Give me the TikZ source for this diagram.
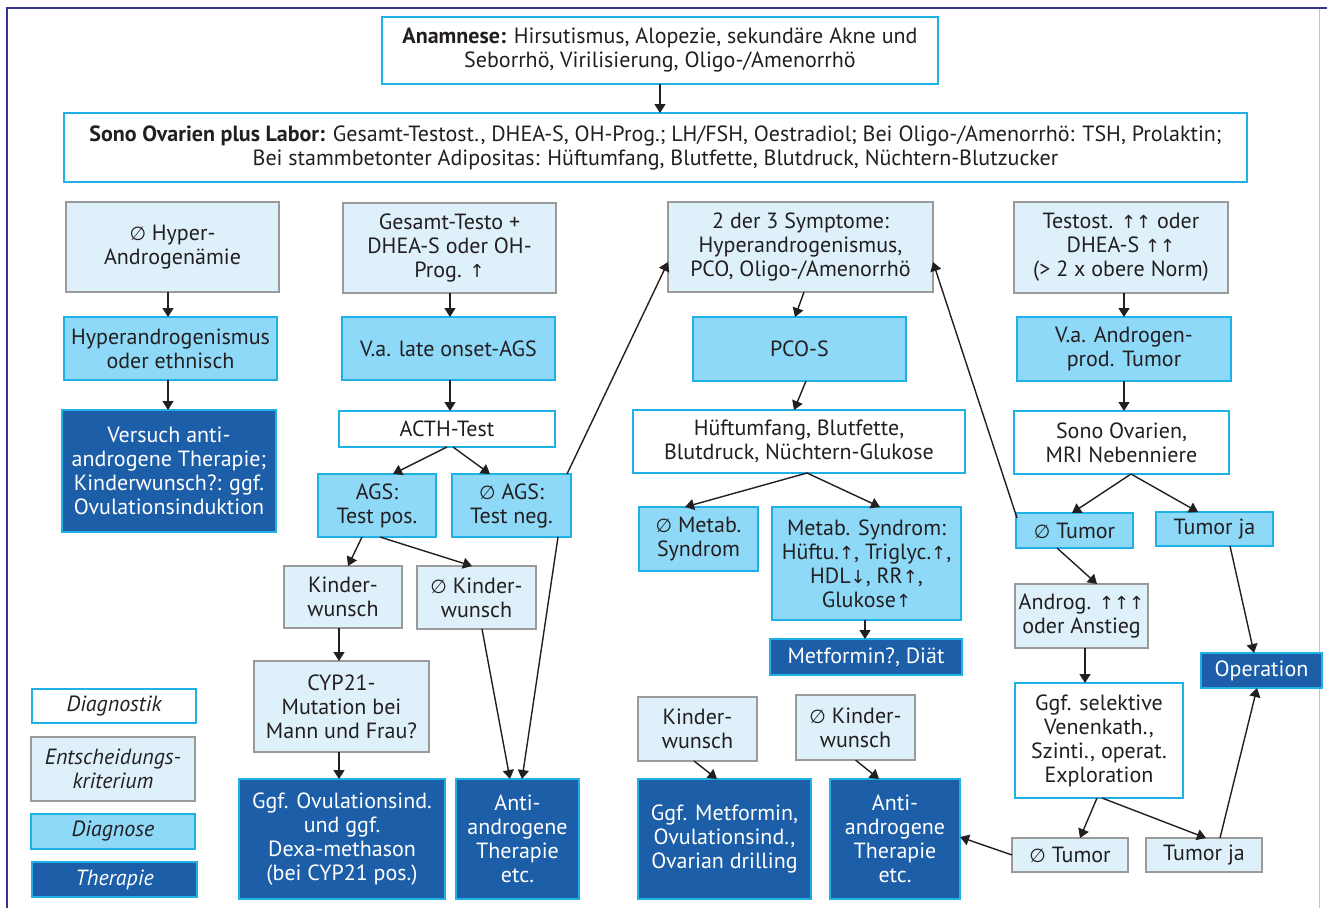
\documentclass[tikz,border=0pt]{standalone}
\usepackage{fontspec}
\setmainfont{PT Sans}
\newfontfamily\symf{DejaVu Sans}
\usetikzlibrary{arrows.meta,calc}
\definecolor{cyb}{HTML}{1FB1E6}
\definecolor{entfill}{HTML}{DEF1FB}
\definecolor{entb}{HTML}{9A9A9A}
\definecolor{dgnfill}{HTML}{8FD9F8}
\definecolor{therfill}{HTML}{1C5EA8}
\definecolor{txt}{HTML}{231F20}
\definecolor{framec}{HTML}{353591}
\newcommand{\myE}{{\symf\fontsize{19}{24}\selectfont ∅}}
\newcommand{\myU}{{\symf\fontsize{18}{24}\selectfont ↑}}
\newcommand{\myD}{{\symf\fontsize{18}{24}\selectfont ↓}}
\newcommand\mybox[7]{\node[#1, minimum width={(#5)-(#3)}, minimum height={(#6)-(#4)}] (#2) at ({((#3)+(#5))/2},{((#4)+(#6))/2}) {#7};}
\newcommand\vd[3]{\draw[arr] ([xshift=#2pt]#1.south) coordinate (tmp) -- (tmp |- #3.north);}
\newcommand\dg[4]{\draw[arr] ([xshift=#2pt]#1.south) -- ([xshift=#4pt]#3.north);}
\tikzset{
  bx/.style={rectangle, align=center, inner sep=2pt, outer sep=0pt, line width=1.6pt, text=txt, font=\fontsize{22}{24}\selectfont},
  diag/.style={bx, draw=cyb, fill=white},
  ent/.style={bx, draw=entb, fill=entfill},
  dgn/.style={bx, draw=cyb, fill=dgnfill},
  ther/.style={bx, draw=cyb, fill=therfill, text=white},
  arr/.style={draw=txt, line width=1.4pt, -{Triangle[length=9pt,width=11pt]}},
}
\begin{document}
\begin{tikzpicture}[x=1pt,y=-1pt]
\useasboundingbox (0,0) rectangle (1327,908);
\fill[white] (0,0) rectangle (1327,908);
\draw[draw=framec!30, line width=1pt] (1319,8) -- (1319,908);
\draw[draw=framec, line width=2.5pt] (7,908) -- (7,8) -- (1327,8);
% top
\mybox{diag}{ana}{382}{17}{938}{84}{\textbf{Anamnese:} Hirsutismus, Alopezie, sekundäre Akne und\\Seborrhö, Virilisierung, Oligo-/Amenorrhö}
\mybox{diag}{sono}{64}{113}{1247}{182}{\textbf{Sono Ovarien plus Labor:} Gesamt-Testost., DHEA-S, OH-Prog.; LH/FSH, Oestradiol; Bei Oligo-/Amenorrhö: TSH, Prolaktin;\\Bei stammbetonter Adipositas: Hüftumfang, Blutfette, Blutdruck, Nüchtern-Blutzucker}
% column A
\mybox{ent}{a1}{66}{202}{279}{292}{\myE{} Hyper-\\Androgenämie}
\mybox{dgn}{a2}{64}{317}{277}{380}{Hyperandrogenismus\\oder ethnisch}
\mybox{ther}{a3}{62}{410}{276}{532}{Versuch anti-\\androgene Therapie;\\Kinderwunsch?: ggf.\\Ovulationsinduktion}
% column B
\mybox{ent}{b1}{343}{203}{556}{293}{Gesamt-Testo +\\DHEA-S oder OH-\\Prog. \myU}
\mybox{dgn}{b2}{342}{317}{555}{380}{V.a. late onset-AGS}
\mybox{diag}{b3}{339}{411}{555}{447}{ACTH-Test}
\mybox{dgn}{b4}{318}{474}{436}{537}{AGS:\\Test pos.}
\mybox{dgn}{b5}{452}{474}{571}{537}{\myE{} AGS:\\Test neg.}
\mybox{ent}{b6}{284}{566}{402}{628}{Kinder-\\wunsch}
\mybox{ent}{b7}{417}{566}{536}{629}{\myE{} Kinder-\\wunsch}
\mybox{ent}{b8}{254}{661}{429}{752}{CYP21-\\Mutation bei\\Mann und Frau?}
\mybox{ther}{b9}{239}{779}{445}{899}{Ggf. Ovulationsind.\\und ggf.\\Dexa-methason\\(bei CYP21 pos.)}
\mybox{ther}{b10}{456}{779}{579}{899}{Anti-\\androgene\\Therapie\\etc.}
% column C
\mybox{ent}{c1}{668}{202}{933}{292}{2 der 3 Symptome:\\Hyperandrogenismus,\\PCO, Oligo-/Amenorrhö}
\mybox{dgn}{c2}{693}{317}{906}{381}{PCO-S}
\mybox{diag}{c3}{633}{410}{965}{473}{Hüftumfang, Blutfette,\\Blutdruck, Nüchtern-Glukose}
\mybox{dgn}{c4}{639}{507}{758}{571}{\myE{} Metab.\\Syndrom}
\mybox{dgn}{c5}{772}{507}{961}{620}{Metab. Syndrom:\\Hüftu.\myU, Triglyc.\myU,\\HDL\myD, RR\myU,\\Glukose\myU}
\mybox{ther}{c6}{770}{639}{962}{675}{Metformin?, Diät}
\mybox{ent}{c7}{638}{697}{757}{761}{Kinder-\\wunsch}
\mybox{ent}{c8}{796}{695}{915}{760}{\myE{} Kinder-\\wunsch}
\mybox{ther}{c9}{638}{779}{811}{899}{Ggf. Metformin,\\Ovulationsind.,\\Ovarian drilling}
\mybox{ther}{c10}{830}{779}{960}{899}{Anti-\\androgene\\Therapie\\etc.}
% column D
\mybox{ent}{d1}{1014}{202}{1228}{293}{Testost. \myU\myU{} oder\\DHEA-S \myU\myU\\(> 2 x obere Norm)}
\mybox{dgn}{d2}{1017}{317}{1231}{381}{V.a. Androgen-\\prod. Tumor}
\mybox{diag}{d3}{1014}{411}{1229}{474}{Sono Ovarien,\\MRI Nebenniere}
\mybox{dgn}{d4}{1016}{513}{1133}{548}{\myE{} Tumor}
\mybox{dgn}{d5}{1156}{512}{1273}{546}{Tumor ja}
\mybox{ent}{d6}{1015}{584}{1148}{648}{Androg. \myU\myU\myU\\oder Anstieg}
\mybox{diag}{d7}{1015}{683}{1183}{798}{Ggf. selektive\\Venenkath.,\\Szinti., operat.\\Exploration}
\mybox{ent}{d8}{1012}{838}{1128}{872}{\myE{} Tumor}
\mybox{ent}{d9}{1146}{838}{1262}{872}{Tumor ja}
\mybox{ther}{op}{1201}{653}{1322}{688}{Operation}
% legend
\mybox{diag}{l1}{32}{689}{196}{723}{\itshape Diagnostik}
\mybox{ent}{l2}{31}{737}{195}{801}{\itshape Entscheidungs-\\\itshape kriterium}
\mybox{dgn}{l3}{31}{814}{195}{849}{\itshape Diagnose}
\mybox{ther}{l4}{32}{862}{197}{897}{\itshape Therapie}
% arrows
\draw[arr] (ana.south) -- (ana.south |- sono.north);
\vd{a1}{-4.5}{a2}
\vd{a2}{-2.5}{a3}
\vd{b1}{0.5}{b2}
\vd{b2}{1.5}{b3}
\dg{b3}{0}{b4}{16}
\dg{b3}{6}{b5}{-21.5}
\dg{b4}{-15}{b6}{5}
\dg{b4}{3}{b7}{-4.5}
\vd{b6}{-4}{b8}
\vd{b8}{-2.5}{b9}
\dg{b7}{5.5}{b10}{-7.5}
\dg{b5}{46.5}{b10}{4.5}
\draw[arr] ([xshift=-4pt]b5.north east) -- ([yshift=-15pt]c1.west);
\dg{c1}{3.5}{c2}{-4.5}
\dg{c2}{6.5}{c3}{-5}
\dg{c3}{8}{c4}{-13.5}
\dg{c3}{8}{c5}{13.5}
\vd{c5}{-1.5}{c6}
\dg{c7}{-3.5}{c9}{-7.5}
\dg{c8}{0}{c10}{-16}
\vd{d1}{3}{d2}
\vd{d2}{0}{d3}
\dg{d3}{9.5}{d4}{-2.5}
\dg{d3}{9.5}{d5}{-16.5}
\draw[arr] ([xshift=1pt,yshift=-5pt]d4.north west) -- ([yshift=-15pt]c1.east);
\dg{d4}{-17.5}{d6}{15.5}
\vd{d6}{3.5}{d7}
\dg{d7}{-2}{d8}{10}
\dg{d7}{3}{d9}{2}
\draw[arr] (d8.west) -- ([yshift=2pt]c10.east);
\draw[arr] ([xshift=16pt]d9.north) -- ([xshift=-4.5pt]op.south);
\dg{d5}{15.5}{op}{-7.5}
\end{tikzpicture}
\end{document}
